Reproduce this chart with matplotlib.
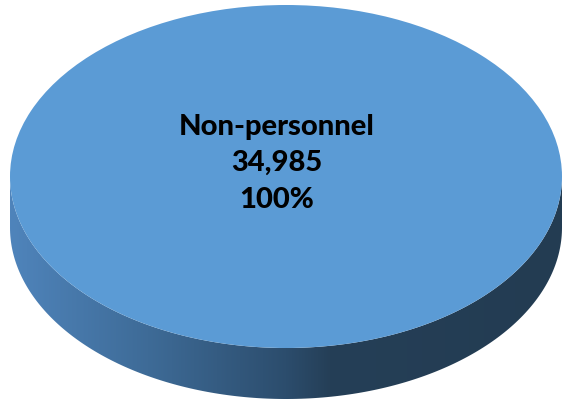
import matplotlib
matplotlib.use('Agg')
import numpy as np
import matplotlib.pyplot as plt
from matplotlib.patches import Polygon
from matplotlib.colors import LinearSegmentedColormap

# data
labels = ['Non-personnel']
values = [34985]
colors = ['#5b9bd5']

# side gradient (light left -> dark right)
side_cmap = LinearSegmentedColormap.from_list(
    'side', [(0.0, '#4f84bb'), (0.25, '#3e6b97'), (0.5, '#2c4d6d'),
             (0.58, '#253f57'), (1.0, '#233c52')])

fig = plt.figure(figsize=(5.63, 4.02), dpi=100)
ax = fig.add_axes([0, 0, 1, 1])

# pie geometry in pixel terms -> data units (radius 1)
cx, cy, rx, ry = 286, 177.5, 276, 171.5
depth = 51 / ry

# side of the disc
t = np.linspace(np.pi, 2 * np.pi, 200)
top_edge = np.column_stack([np.cos(t), np.sin(t)])
bot_edge = np.column_stack([np.cos(t[::-1]), np.sin(t[::-1]) - depth])
side = Polygon(np.vstack([top_edge, bot_edge]), closed=True,
               facecolor='none', edgecolor='none')
ax.add_patch(side)
grad = np.linspace(0, 1, 256).reshape(1, -1)
im = ax.imshow(grad, cmap=side_cmap, aspect='auto',
               extent=(-1, 1, -1 - depth, 0.2), zorder=1)
im.set_clip_path(side)

# top face
wedges, _ = ax.pie(values, colors=colors, startangle=90, counterclock=False,
                   radius=1, center=(0, 0), wedgeprops=dict(linewidth=0))
for w in wedges:
    w.set_zorder(2)

total = sum(values)
for lab, v in zip(labels, values):
    ax.text((277 - cx) / rx, (cy - 163) / ry,
            f'{lab}\n{v:,}\n{v / total:.0%}',
            ha='center', va='center', fontsize=21, fontweight='black',
            family='Lato', linespacing=1.5, color='black', zorder=3)

ax.set_aspect('auto')
ax.set_xlim((0 - cx) / rx, (563 - cx) / rx)
ax.set_ylim((cy - 402) / ry, cy / ry)
ax.axis('off')

fig.savefig('out.png', dpi=100, facecolor='white')
